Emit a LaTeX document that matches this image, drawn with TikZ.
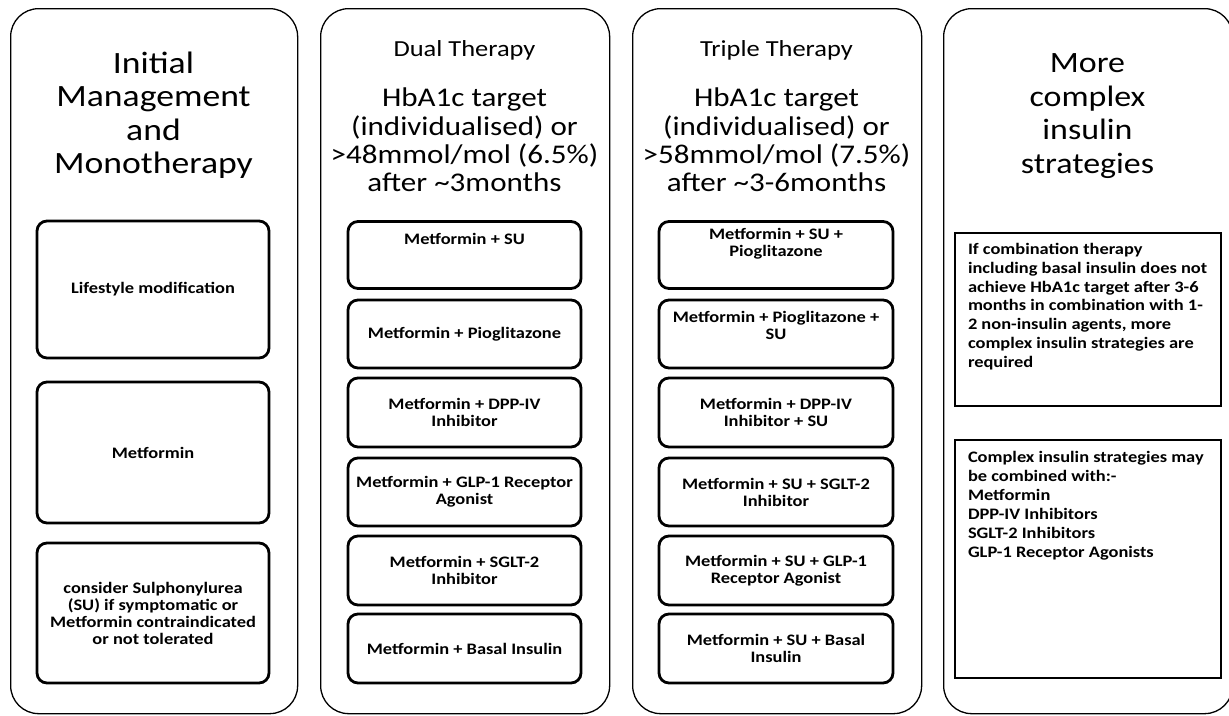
\documentclass[tikz,border=0pt]{standalone}
\usepackage{fontspec}
\setmainfont{Carlito}[FakeStretch=1.15]
\begin{document}
\begin{tikzpicture}[x=1pt,y=-1pt,
  col/.style={draw, line width=1.3pt, rounded corners=28pt, minimum width=289pt, minimum height=705pt, anchor=north west, inner sep=0pt},
  rbox/.style={draw, line width=2.8pt, rounded corners=10pt, inner sep=0pt, align=center, font=\bfseries\fontsize{16}{17}\selectfont},
  sbox/.style={draw, line width=2.4pt, inner sep=0pt, minimum width=266pt},
  btext/.style={inner sep=0pt, align=center, font=\bfseries\fontsize{16}{17}\selectfont},
  ltext/.style={inner sep=0pt, align=left, font=\bfseries\fontsize{16}{18.9}\selectfont},
  hbig/.style={inner sep=0pt, align=center, font=\fontsize{29.5}{33.5}\selectfont},
  hmid/.style={inner sep=0pt, align=center, font=\fontsize{27}{28.3}\selectfont},
  hsmall/.style={inner sep=0pt, align=center, font=\fontsize{23}{26}\selectfont},
  c1b/.style={rbox, minimum width=232pt},
  c2b/.style={rbox, minimum width=233pt, minimum height=67pt},
  c3b/.style={rbox, minimum width=234pt, minimum height=67pt}
]
\useasboundingbox (0,0) rectangle (1229,715);

% columns
\node[col, minimum width=287pt] (col1) at (10,8) {};
\node[col] (col2) at (320,8) {};
\node[col] (col3) at (632,8) {};
\node[col] (col4) at (943,8) {};

% headers
\node[hbig, font=\fontsize{31}{33.5}\selectfont] (h1) at (153.5,115) {Initial\\Management\\and\\Monotherapy};
\node[hsmall] (h2a) at (464.5,50) {Dual Therapy};
\node[hmid] (h2b) at (464.5,140) {HbA1c target\\(individualised) or\\>48mmol/mol (6.5\%)\\after \textasciitilde3months};
\node[hsmall] (h3a) at (776.5,50) {Triple Therapy};
\node[hmid] (h3b) at (776.5,140) {HbA1c target\\(individualised) or\\>58mmol/mol (7.5\%)\\after \textasciitilde3-6months};
\node[hbig] (h4) at (1087.5,116) {More\\complex\\insulin\\strategies};

% column 1
\node[c1b, minimum height=137pt] (m1) at (153,289.5) {Lifestyle modification};
\node[c1b, minimum height=141pt] (m2) at (153,452.5) {Metformin};
\node[c1b, minimum height=140pt] (m3) at (153,613) {consider Sulphonylurea\\(SU) if symptomatic or\\Metformin contraindicated\\or not tolerated};

% column 2
\node[c2b] (d1) at (464.5,255) {};
\node[btext, anchor=north] (d1t) at ([yshift=-12.5pt]d1.north) {Metformin + SU};
\node[c2b, minimum height=68pt] (d2) at (464.5,334) {Metformin + Pioglitazone};
\node[c2b, minimum height=69pt] (d3) at (464.5,412.5) {Metformin + DPP-IV\\Inhibitor};
\node[c2b, minimum height=68pt] (d4) at (464.5,492) {Metformin + GLP-1 Receptor\\Agonist};
\node[c2b, minimum height=69pt] (d5) at (464.5,570.5) {Metformin + SGLT-2\\Inhibitor};
\node[c2b, minimum height=69pt] (d6) at (464.5,648.5) {Metformin + Basal Insulin};

% column 3
\node[c3b] (t1) at (776,255) {};
\node[btext, anchor=north] (t1t) at ([yshift=-8pt]t1.north) {Metformin + SU +\\Pioglitazone};
\node[c3b, minimum height=68pt] (t2) at (776,334) {};
\node[btext, anchor=north] (t2t) at ([yshift=-12.5pt]t2.north) {Metformin + Pioglitazone +\\SU};
\node[c3b, minimum height=69pt] (t3) at (776,412.5) {Metformin + DPP-IV\\Inhibitor + SU};
\node[c3b, minimum height=68pt] (t4) at (776,492) {Metformin + SU + SGLT-2\\Inhibitor};
\node[c3b, minimum height=69pt] (t5) at (776,570.5) {Metformin + SU + GLP-1\\Receptor Agonist};
\node[c3b, minimum height=69pt] (t6) at (776,648.5) {Metformin + SU + Basal\\Insulin};

% column 4
\node[sbox, minimum height=173pt] (q1) at (1088,319.5) {};
\node[ltext, anchor=north west] (q1t) at ([xshift=14pt,yshift=-11pt]q1.north west) {If combination therapy\\including basal insulin does not\\achieve HbA1c target after 3-6\\months in combination with 1-\\2 non-insulin agents, more\\complex insulin strategies are\\required};
\node[sbox, minimum height=238pt] (q2) at (1088,559) {};
\node[ltext, anchor=north west] (q2t) at ([xshift=14pt,yshift=-12.5pt]q2.north west) {Complex insulin strategies may\\be combined with:-\\Metformin\\DPP-IV Inhibitors\\SGLT-2 Inhibitors\\GLP-1 Receptor Agonists};
\end{tikzpicture}
\end{document}
